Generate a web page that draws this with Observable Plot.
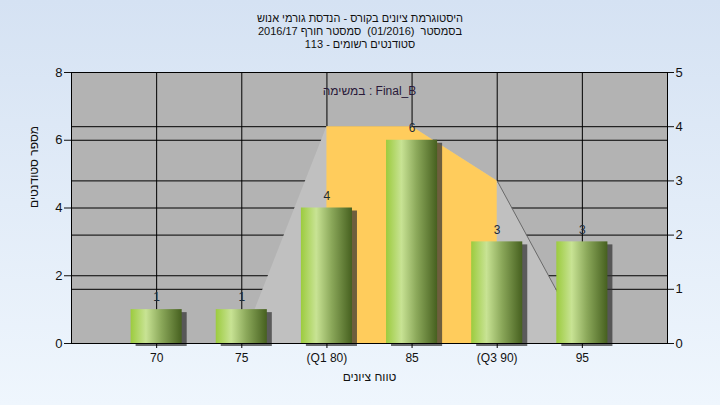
<!DOCTYPE html>
<html><head><meta charset="utf-8">
<script src="https://cdn.jsdelivr.net/npm/d3@7"></script>
<script src="https://cdn.jsdelivr.net/npm/@observablehq/plot@0.6"></script>
<style>
html,body{margin:0;padding:0;}
body{width:720px;height:405px;overflow:hidden;background:linear-gradient(to bottom,#d5e2f3,#eff6fd);font-family:"Liberation Sans",Arial,"DejaVu Sans",sans-serif;}
#title{height:56px;text-align:center;font-size:11px;line-height:13px;padding-top:12px;box-sizing:border-box;color:#111;}
#chart svg{display:block;}
</style></head><body>
<div id="title" dir="rtl"></div>
<div id="chart"></div>
<script>
const titleLines = [
  "היסטוגרמת ציונים בקורס - הנדסת גורמי אנוש",
  "בסמסטר  (01/2016)  סמסטר חורף 2016/17",
  "סטודנטים רשומים - 113"
];
const categories = ["70", "75", "(Q1 80)", "85", "(Q3 90)", "95"];
const counts = [1, 1, 4, 6, 3, 3];
const curveValues = [0, 0, 4, 4, 3, 0.1];
const q1Index = 2, q3Index = 4;
const leftTicks = [0, 2, 4, 6, 8];
const rightTicks = [0, 1, 2, 3, 4, 5];
const taskLabel = "במשימה : Final_B";
const xTitle = "טווח ציונים";
const yTitle = "מספר סטודנטים";

document.getElementById("title").innerHTML = titleLines.map(t => `<div>${t.replace(/  /g, "&nbsp; ")}</div>`).join("");

const ratio = leftTicks[leftTicks.length - 1] / rightTicks[rightTicks.length - 1];
const bars = categories.map((c, i) => ({i, c, count: counts[i]}));
const curve = curveValues.map((v, i) => ({i, v: v * ratio}));
const idx = categories.map((c, i) => i);
const font = '"Liberation Sans",Arial,"DejaVu Sans",sans-serif';

const plot = Plot.plot({
  width: 720, height: 349,
  marginLeft: 71, marginRight: 53, marginTop: 16, marginBottom: 62,
  style: {background: "transparent", fontFamily: font, fontSize: "12px", color: "#111", overflow: "visible"},
  x: {domain: [-1, categories.length], axis: null},
  y: {domain: [0, leftTicks[leftTicks.length - 1]], axis: null},
  marks: [
    Plot.frame({fill: "#b3b3b3"}),
    Plot.ruleY(leftTicks.slice(1, -1), {stroke: "black"}),
    Plot.ruleY(rightTicks.slice(1, -1).map(v => v * ratio), {stroke: "black"}),
    Plot.ruleX(idx, {stroke: "black"}),
    Plot.areaY(curve, {x: "i", y: "v", fill: "#c0c0c0"}),
    Plot.areaY(curve.filter(d => d.i >= q1Index && d.i <= q3Index), {x: "i", y: "v", fill: "#ffcc5c"}),
    Plot.line(curve.filter(d => d.i >= q3Index), {x: "i", y: "v", stroke: "#6a6a6a", strokeWidth: 1}),
    Plot.rect(bars, {x1: d => d.i - 0.3, x2: d => d.i + 0.3, y1: 0, y2: "count", dx: 5, dy: 3, fill: "#303030", fillOpacity: 0.7, ariaLabel: "shadow"}),
    Plot.rect(bars, {x1: d => d.i - 0.3, x2: d => d.i + 0.3, y1: 0, y2: "count", fill: "url(#cyl)"}),
    Plot.text(bars, {x: "i", y: "count", text: d => String(d.count), dy: -12, fill: "#1b2a38", fontSize: 12}),
    Plot.text([taskLabel], {frameAnchor: "top", dy: 14, fill: "#2a1a3a", fontSize: 12}),
    Plot.frame({stroke: "black"}),
    Plot.axisX(idx, {anchor: "bottom", tickFormat: i => categories[i], tickSize: 5, tickPadding: 5, label: null, fontSize: 12, stroke: "black"}),
    Plot.axisY(leftTicks, {anchor: "left", tickSize: 7, tickPadding: 2, label: null, fontSize: 13}),
    Plot.axisY(rightTicks.map(v => v * ratio), {anchor: "right", tickFormat: d => String(Math.round(d / ratio)), tickSize: 6, tickPadding: 2, label: null, fontSize: 13}),
    Plot.text([xTitle], {frameAnchor: "bottom", dy: 37, fontSize: 12, fill: "#111"}),
    Plot.text([yTitle], {frameAnchor: "left", dx: -37, rotate: -90, fontSize: 12, fill: "#111"})
  ]
});

const ns = "http://www.w3.org/2000/svg";
const defs = document.createElementNS(ns, "defs");
defs.innerHTML = `<linearGradient id="cyl" x1="0" x2="1" y1="0" y2="0">
  <stop offset="0" stop-color="#9ccb3e"/>
  <stop offset="0.3" stop-color="#c8e394"/>
  <stop offset="0.6" stop-color="#8ba85a"/>
  <stop offset="1" stop-color="#46601f"/>
</linearGradient>
<filter id="blur" x="-30%" y="-30%" width="160%" height="160%"><feGaussianBlur stdDeviation="2"/></filter>`;
plot.prepend(defs);
const sh = plot.querySelector('g[aria-label="shadow"]');
if (sh) sh.setAttribute("filter", "url(#blur)");
document.getElementById("chart").appendChild(plot);
</script>
</body></html>
